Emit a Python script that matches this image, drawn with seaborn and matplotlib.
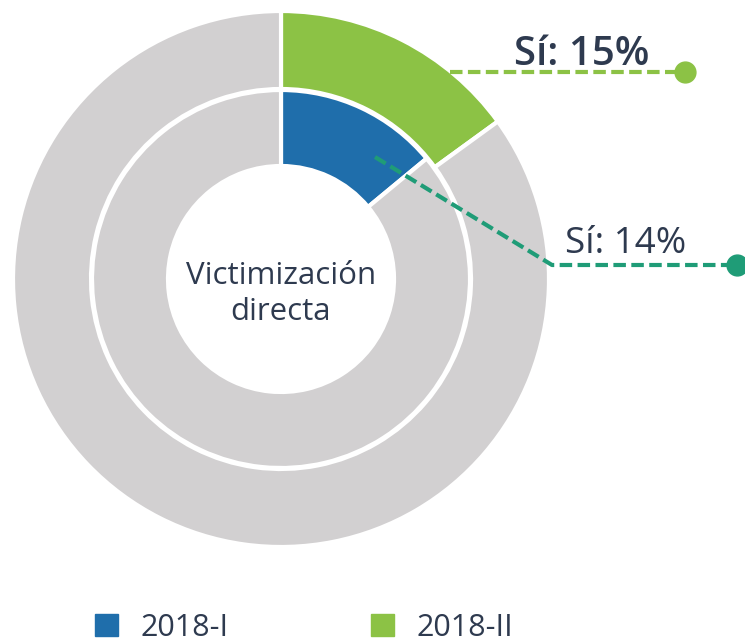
import matplotlib
matplotlib.use("Agg")
import matplotlib.pyplot as plt
import matplotlib.patches as mpatches
import seaborn as sns

# data
periods = ["2018-I", "2018-II"]
si_pct = [14, 15]
labels_center = "Victimización\ndirecta"

blue = "#1f6eab"
green = "#8cc245"
gray = "#d2d0d1"
teal = "#1f9c77"
text_col = "#2e3a4f"

sns.set_theme(style="white")
plt.rcParams["font.family"] = ["Open Sans", "DejaVu Sans"]

fig = plt.figure(figsize=(7.45, 6.44), dpi=100)
ax = fig.add_axes([0, 0, 1, 1])

cx, cy = 281, 365

# outer ring: 2018-II
ax.pie([si_pct[1], 100 - si_pct[1]], radius=268, center=(cx, cy), startangle=90,
       counterclock=False, colors=[green, gray],
       wedgeprops=dict(width=78, edgecolor="white", linewidth=3))
# inner ring: 2018-I
ax.pie([si_pct[0], 100 - si_pct[0]], radius=189, center=(cx, cy), startangle=90,
       counterclock=False, colors=[blue, gray],
       wedgeprops=dict(width=76, edgecolor="white", linewidth=3))

ax.set_xlim(0, 745)
ax.set_ylim(0, 644)
ax.set_aspect("equal")
ax.axis("off")

ax.text(cx, cy - 15, labels_center, ha="center", va="center", fontsize=22.5,
        color=text_col, linespacing=1.25)

# callout 2018-II
ax.plot([450, 685], [572, 572], ls=(0, (3, 1.3)), lw=3, color=green)
ax.plot(685, 572, "o", ms=15, color=green)
ax.text(582, 579, f"Sí: {si_pct[1]}%", ha="center", va="baseline", fontsize=29,
        fontweight="semibold", color=text_col)

# callout 2018-I
ax.plot([375, 552, 737], [487, 379, 379], ls=(0, (3, 1.3)), lw=3, color=teal)
ax.plot(737, 379, "o", ms=15, color=teal)
ax.text(626, 391, f"Sí: {si_pct[0]}%", ha="center", va="baseline", fontsize=26.5,
        color=text_col)

handles = [mpatches.Patch(color=blue, label=periods[0]),
           mpatches.Patch(color=green, label=periods[1])]
fig.legend(handles=handles, loc="lower left", bbox_to_anchor=(0.091, -0.041), ncol=2,
           frameon=False, fontsize=22, handlelength=0.75, handleheight=0.75,
           handletextpad=0.74, columnspacing=4.65, labelcolor=text_col)

fig.savefig("out.png", dpi=100)
